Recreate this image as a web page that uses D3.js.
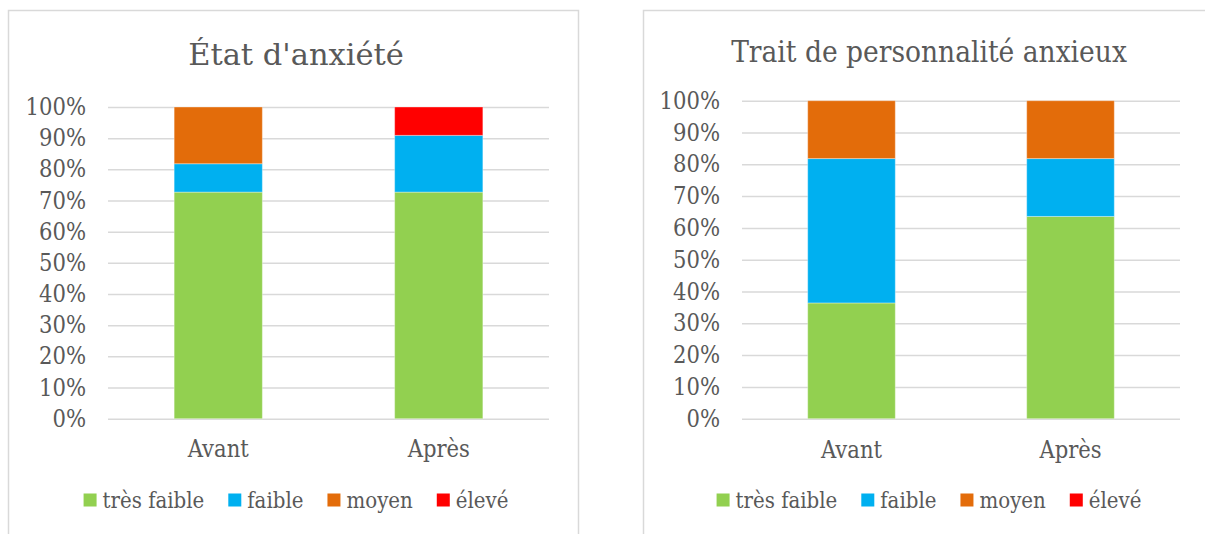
<!DOCTYPE html>
<html lang="fr">
<head>
    <meta charset="UTF-8">
    <title>Anxiété</title>
    <script src="https://d3js.org/d3.v7.min.js"></script>
    <style>
        body {
            margin: 0;
            background-color: #ffffff;
            overflow: hidden;
        }
        text {
            font-family: "DejaVu Serif Condensed", "DejaVu Serif", "Liberation Serif", serif;
            fill: #595959;
        }
    </style>
</head>
<body>
    <svg id="chart" width="1205" height="534"></svg>
    <script>
        // data (percent of participants)
        const categories = ['Avant', 'Après'];
        const levels = ['très faible', 'faible', 'moyen', 'élevé'];
        const colors = ['#92D050', '#00B0F0', '#E36C0A', '#FF0000'];
        const yTicks = [0, 10, 20, 30, 40, 50, 60, 70, 80, 90, 100];

        const etatTresFaible = [72.7, 72.7];
        const etatFaible = [9.1, 18.2];
        const etatMoyen = [18.2, 0];
        const etatEleve = [0, 9.1];

        const traitTresFaible = [36.4, 63.6];
        const traitFaible = [45.4, 18.2];
        const traitMoyen = [18.2, 18.2];
        const traitEleve = [0, 0];

        const svg = d3.select('#chart');

        function drawChart(cfg) {
            const g = svg.append('g');
            const series = [cfg.tresFaible, cfg.faible, cfg.moyen, cfg.eleve];
            const rows = categories.map((c, i) => {
                const row = { cat: c };
                levels.forEach((l, k) => { row[l] = series[k][i]; });
                return row;
            });
            const stacked = d3.stack().keys(levels)(rows);

            // frame
            g.append('rect')
             .attr('x', cfg.box[0] + 0.5)
             .attr('y', cfg.box[1] + 0.5)
             .attr('width', cfg.box[2])
             .attr('height', cfg.box[3])
             .attr('fill', '#fff')
             .attr('stroke', '#D9D9D9')
             .attr('stroke-width', 1.5);

            const x = d3.scaleBand()
                        .domain(categories)
                        .range([cfg.left, cfg.right])
                        .paddingInner(0.6)
                        .paddingOuter(0.3);
            const y = d3.scaleLinear()
                        .domain([0, 100])
                        .range([cfg.bottom, cfg.top]);

            // gridlines + y labels
            const yAxis = d3.axisLeft(y)
                            .tickValues(yTicks)
                            .tickFormat(d => d + '%')
                            .tickSize(-(cfg.right - cfg.left))
                            .tickPadding(22);
            const ya = g.append('g')
                        .attr('transform', `translate(${cfg.left},0)`)
                        .call(yAxis);
            ya.select('.domain').remove();
            ya.selectAll('line').attr('stroke', '#D9D9D9').attr('stroke-width', 1.5);
            ya.selectAll('text')
              .attr('fill', '#595959')
              .style('font-size', '23.5px');

            // bars
            g.selectAll('.layer')
             .data(stacked)
             .join('g')
             .attr('fill', (d, i) => colors[i])
             .selectAll('rect')
             .data(d => d)
             .join('rect')
             .attr('x', d => x(d.data.cat))
             .attr('width', x.bandwidth())
             .attr('y', d => y(d[1]))
             .attr('height', d => y(d[0]) - y(d[1]))
             .attr('stroke', d => (d[1] - d[0]) > 0 ? 'rgba(255,255,255,0.35)' : 'none')
             .attr('stroke-width', 1);

            // category labels
            const xAxis = d3.axisBottom(x).tickSize(0).tickPadding(0);
            const xa = g.append('g')
                        .attr('transform', `translate(0,${cfg.catY})`)
                        .call(xAxis);
            xa.select('.domain').remove();
            xa.selectAll('text')
              .attr('fill', '#595959')
              .attr('dy', 0)
              .style('font-size', '23.5px');

            // title
            g.append('text')
             .attr('x', cfg.center)
             .attr('y', cfg.titleY)
             .attr('text-anchor', 'middle')
             .style('font-family', cfg.titleFont)
             .style('font-size', cfg.titleSize)
             .text(cfg.title);

            // legend
            const lg = g.append('g');
            let cx = 0;
            levels.forEach((l, i) => {
                const item = lg.append('g').attr('transform', `translate(${cx},0)`);
                item.append('rect')
                    .attr('x', 0).attr('y', -6.5)
                    .attr('width', 13).attr('height', 13)
                    .attr('fill', colors[i]);
                const t = item.append('text')
                              .attr('x', 19)
                              .attr('y', 7.5)
                              .style('font-size', '22px')
                              .text(l);
                cx += 19 + t.node().getComputedTextLength() + 24;
            });
            const lw = cx - 24;
            lg.attr('transform', `translate(${cfg.center - lw / 2},${cfg.legendY})`);
        }

        drawChart({
            title: "État d'anxiété",
            titleFont: '"DejaVu Serif", "Liberation Serif", serif', titleSize: '30.5px',
            box: [8, 10, 570, 560],
            left: 108, right: 549, top: 107, bottom: 418.7,
            center: 296, titleY: 65, catY: 457, legendY: 500,
            tresFaible: etatTresFaible, faible: etatFaible, moyen: etatMoyen, eleve: etatEleve
        });

        drawChart({
            title: 'Trait de personnalité anxieux',
            titleFont: '"DejaVu Serif Condensed", "DejaVu Serif", serif', titleSize: '29.5px',
            box: [643, 10, 620, 560],
            left: 742, right: 1180, top: 100.7, bottom: 418.7,
            center: 929, titleY: 62, catY: 458, legendY: 500,
            tresFaible: traitTresFaible, faible: traitFaible, moyen: traitMoyen, eleve: traitEleve
        });
    </script>
</body>
</html>
